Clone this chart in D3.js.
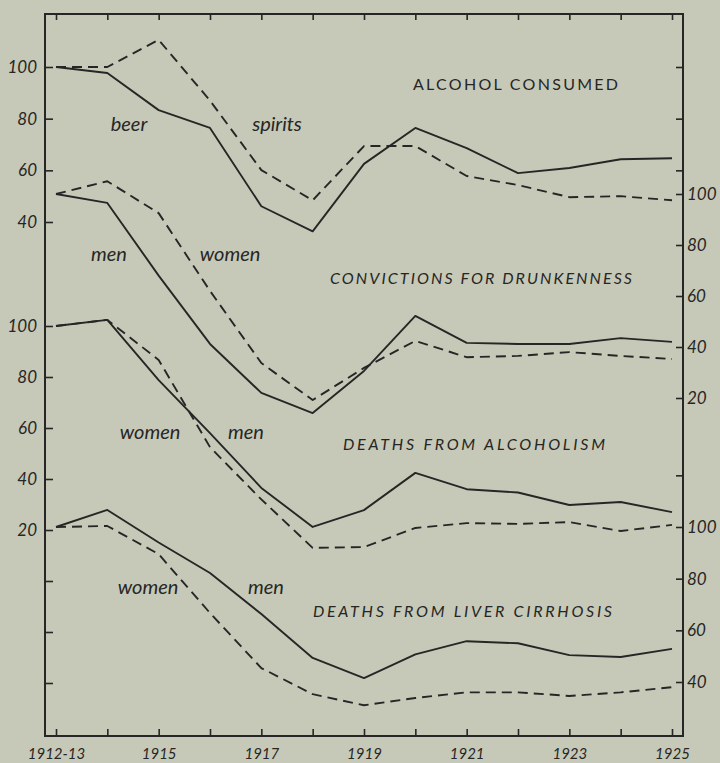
<!DOCTYPE html>
<html>
<head>
<meta charset="utf-8">
<script src="https://cdn.jsdelivr.net/npm/d3@7"></script>
<style>
  html, body { margin: 0; padding: 0; background: #c6c9b7; }
  svg { display: block; }
  text { font-family: Lato, "Open Sans", "DejaVu Sans", sans-serif; fill: #262626; font-weight: 400; }
</style>
</head>
<body>
<svg id="chart" width="720" height="763"></svg>
<script>
// ---------- data ----------
const years = ["1912-13","1914","1915","1916","1917","1918","1919","1920","1921","1922","1923","1924","1925"];
const yearLabels = ["1912-13","","1915","","1917","","1919","","1921","","1923","","1925"];

// Alcohol consumed (index, left axis upper scale)
const beer    = [100, 97.7, 83.3, 76.4, 46.1, 36.4, 62.5, 76.4, 68.6, 58.9, 60.9, 64.3, 64.7];
const spirits = [100, 100, 110.5, 87, 60.1, 48.4, 69.4, 69.4, 57.8, 54.3, 49.6, 50, 48.4];

// Convictions for drunkenness (right axis upper scale)
const convMen   = [100, 96.5, 68, 41.2, 22, 14.1, 30.6, 52.2, 41.6, 41.2, 41.2, 43.5, 42];
const convWomen = [100, 105, 92.5, 62, 33.7, 19.2, 31.8, 42.4, 36, 36.5, 38, 36.5, 35.3];

// Deaths from alcoholism (left axis lower scale)
const alcMen   = [100, 102.4, 78.8, 58, 36.5, 21.2, 27.8, 42.4, 36, 34.7, 29.8, 31, 27];
const alcWomen = [100, 102.4, 86.7, 52.5, 32, 13, 13.3, 20.8, 22.7, 22.4, 23.1, 19.6, 22];

// Deaths from liver cirrhosis (right axis lower scale)
const livMen   = [100, 106.6, 94, 82.2, 66.3, 49.3, 41.5, 50.7, 55.8, 55, 50.4, 49.7, 52.8];
const livWomen = [100, 100.4, 89.5, 66.7, 45.4, 35.3, 31, 33.8, 36, 36, 34.6, 36, 38];

// axis tick values
const ticksAlc   = [60, 80, 100];
const ticksAlcL  = [40, 60, 80, 100];
const ticksConv  = [20, 40, 60, 80, 100];
const ticksDAlc  = [-40, -20, 0, 20, 40, 60, 80, 100];
const ticksLiv   = [40, 60, 80, 100, 120];

// ---------- layout ----------
const svg = d3.select("#chart");
const L = 45, R = 683, T = 14, B = 736;
const ink = "#262626";

const x = d3.scalePoint().domain(years).range([56, 672]);

const yAlc  = d3.scaleLinear().domain([40, 100]).range([222, 67]);
const yConv = d3.scaleLinear().domain([20, 100]).range([398, 194]);
const yDAlc = d3.scaleLinear().domain([20, 100]).range([530, 326]);
const yLiv  = d3.scaleLinear().domain([40, 100]).range([682, 527]);

// frame
svg.append("rect")
  .attr("x", L).attr("y", T).attr("width", R - L).attr("height", B - T)
  .attr("fill", "none").attr("stroke", ink).attr("stroke-width", 2);

function styleAxis(g) {
  g.select(".domain").remove();
  g.selectAll(".tick line").attr("stroke", ink).attr("stroke-width", 1.6);
  g.selectAll(".tick text")
    .attr("fill", ink)
    .style("font-size", "17px")
    .style("font-style", "italic")
    .style("font-family", "Lato, 'Open Sans', sans-serif");
}

// top ticks (inward)
svg.append("g").attr("transform", `translate(0,${T})`)
  .call(d3.axisTop(x).tickSize(-6).tickFormat(""))
  .call(styleAxis);

// bottom axis
svg.append("g").attr("transform", `translate(0,${B})`)
  .call(d3.axisBottom(x).tickSize(-7).tickFormat((d, i) => yearLabels[i]))
  .call(styleAxis)
  .call(g => g.selectAll(".tick text").attr("y", 23).attr("dy", "0").style("font-size", "15px"));

// left axes
svg.append("g").attr("transform", `translate(${L},0)`)
  .call(d3.axisLeft(yAlc).tickValues(ticksAlcL).tickSize(-8).tickPadding(8).tickFormat(d3.format("d")))
  .call(styleAxis);
svg.append("g").attr("transform", `translate(${L},0)`)
  .call(d3.axisLeft(yDAlc).tickValues(ticksDAlc).tickSize(-8).tickPadding(8)
        .tickFormat(d => d >= 20 ? d3.format("d")(d) : ""))
  .call(styleAxis);

// right axes
svg.append("g").attr("transform", `translate(${R},0)`)
  .call(d3.axisRight(yAlc).tickValues(ticksAlc).tickSize(-7).tickFormat(""))
  .call(styleAxis);
svg.append("g").attr("transform", `translate(${R},0)`)
  .call(d3.axisRight(yConv).tickValues(ticksConv).tickSize(-7).tickPadding(4).tickFormat(d3.format("d")))
  .call(styleAxis);
svg.append("g").attr("transform", `translate(${R},0)`)
  .call(d3.axisRight(yLiv).tickValues(ticksLiv).tickSize(-7).tickPadding(4)
        .tickFormat(d => d <= 100 ? d3.format("d")(d) : ""))
  .call(styleAxis);

// lines
function drawLine(vals, yScale, dashed) {
  const line = d3.line().x((d, i) => x(years[i])).y(d => yScale(d));
  svg.append("path")
    .datum(vals)
    .attr("d", line)
    .attr("fill", "none")
    .attr("stroke", ink)
    .attr("stroke-width", 1.9)
    .attr("stroke-linejoin", "round")
    .attr("stroke-dasharray", dashed ? "10,6" : null);
}
drawLine(beer, yAlc, false);
drawLine(spirits, yAlc, true);
drawLine(convMen, yConv, false);
drawLine(convWomen, yConv, true);
drawLine(alcMen, yDAlc, false);
drawLine(alcWomen, yDAlc, true);
drawLine(livMen, yLiv, false);
drawLine(livWomen, yLiv, true);

// titles
const titles = [
  { t: "ALCOHOL CONSUMED", x: 413, y: 90, w: 205, it: false },
  { t: "CONVICTIONS FOR DRUNKENNESS", x: 330, y: 284, w: 302, it: true },
  { t: "DEATHS FROM ALCOHOLISM", x: 343, y: 450, w: 262, it: true },
  { t: "DEATHS FROM LIVER CIRRHOSIS", x: 313, y: 617, w: 299, it: true }
];
svg.selectAll("text.title").data(titles).join("text")
  .attr("class", "title")
  .attr("x", d => d.x).attr("y", d => d.y)
  .attr("textLength", d => d.w).attr("lengthAdjust", "spacing")
  .style("font-size", "16px")
  .style("font-style", d => d.it ? "italic" : "normal")
  .text(d => d.t);

// series labels
const labels = [
  { t: "beer", x: 129, y: 131 },
  { t: "spirits", x: 277, y: 131 },
  { t: "men", x: 109, y: 261 },
  { t: "women", x: 230, y: 261 },
  { t: "women", x: 150, y: 439 },
  { t: "men", x: 246, y: 439 },
  { t: "women", x: 148, y: 594 },
  { t: "men", x: 266, y: 594 }
];
svg.selectAll("text.lab").data(labels).join("text")
  .attr("class", "lab")
  .attr("x", d => d.x).attr("y", d => d.y)
  .attr("text-anchor", "middle")
  .style("font-size", "20px")
  .style("font-style", "italic")
  .text(d => d.t);
</script>
</body>
</html>
